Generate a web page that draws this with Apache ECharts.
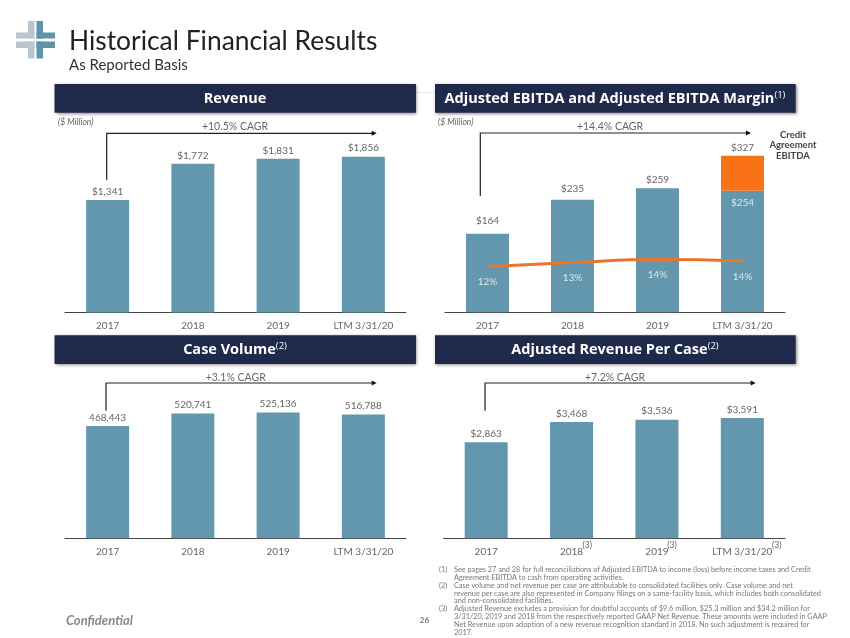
<!DOCTYPE html>
<html><head><meta charset="utf-8">
<style>html,body{margin:0;padding:0;background:#fff}#c{width:850px;height:638px}</style>
<script src="https://cdn.jsdelivr.net/npm/echarts@6/dist/echarts.min.js"></script>
</head><body><div id="c"></div>
<script>
var categories = ['2017','2018','2019','LTM 3/31/20'];
var revenue = [1341,1772,1831,1856];
var ebitda = [164,235,259,254];
var creditAddOn = [null,null,null,73];
var ebitdaLabels = ['$164','$235','$259','$254'];
var creditLabel = '$327';
var margin = [12.2,13.3,14.1,13.7];
var caseVolume = [468443,520741,525136,516788];
var revPerCase = [2863,3468,3536,3591];
var footnotes = [
 ['(1)','See pages 27 and 28 for full reconciliations of Adjusted EBITDA to income (loss) before income taxes and Credit'],
 ['','Agreement EBITDA to cash from operating activities.'],
 ['(2)','Case volume and net revenue per case are attributable to consolidated facilities only. Case volume and net'],
 ['','revenue per case are also represented in Company filings on a same-facility basis, which includes both consolidated'],
 ['','and non-consolidated facilities.'],
 ['(3)','Adjusted Revenue excludes a provision for doubtful accounts of $9.6 million, $25.3 million and $34.2 million for'],
 ['','3/31/20, 2019 and 2018 from the respectively reported GAAP Net Revenue. These amounts were included in GAAP'],
 ['','Net Revenue upon adoption of a new revenue recognition standard in 2018. No such adjustment is required for'],
 ['','2017.']
];

var FONT = 'Lato, "Open Sans", sans-serif';
var HEAD = '"Open Sans", sans-serif';
var NAVY = '#1f2a4a', BAR = '#6297ae', ORANGE = '#f97316', TXT = '#666', LIGHT = '#dce8ee';
var LABEL = 10;

var grids = [
 {left:65,  width:341,   top:120, height:192.5},
 {left:445, width:340,   top:120, height:192.3},
 {left:65,  width:341,   top:372, height:166.3},
 {left:443.5,width:341.5,top:372, height:166.3}
];
var yMax = [2294, 401.5, 694073, 4960];

function fmtUsd(v){return '$'+v.toLocaleString('en-US');}
function fmtNum(v){return v.toLocaleString('en-US');}

function xAxis(i,data){
 return {type:'category',gridIndex:i,data:data,
  axisLine:{lineStyle:{color:'#444',width:1}},axisTick:{show:false},
  axisLabel:{interval:0,margin:8,fontFamily:FONT,fontSize:LABEL,color:TXT}};
}
function yAxis(i,max){return {type:'value',gridIndex:i,min:0,max:max,show:false,splitLine:{show:false}};}
function bars(i,data,fmt){
 return {type:'bar',xAxisIndex:i,yAxisIndex:i,data:data,barWidth:43,itemStyle:{color:BAR},
  label:{show:true,position:'top',distance:3.5,fontFamily:FONT,fontSize:LABEL,color:TXT,formatter:function(p){return fmt(p.value);}}};
}

var ebitdaDist = [7.5,5.5,3.5];
var ebitdaData = ebitda.map(function(v,k){
 if(k===3) return {value:v,label:{show:true,position:'insideTop',distance:7,color:LIGHT,formatter:ebitdaLabels[k]}};
 return {value:v,label:{show:true,position:'top',distance:ebitdaDist[k],formatter:ebitdaLabels[k],color:TXT}};
});

var series = [
 bars(0,revenue,fmtUsd),
 {type:'bar',stack:'e',xAxisIndex:1,yAxisIndex:1,data:ebitdaData,barWidth:43,itemStyle:{color:BAR},
  label:{fontFamily:FONT,fontSize:LABEL}},
 {type:'bar',stack:'e',xAxisIndex:1,yAxisIndex:1,data:creditAddOn,barWidth:43,itemStyle:{color:ORANGE},
  label:{show:true,position:'top',distance:2.5,fontFamily:FONT,fontSize:LABEL,color:TXT,formatter:creditLabel}},
 {type:'line',xAxisIndex:1,yAxisIndex:4,data:margin,smooth:true,symbol:'circle',symbolSize:1,showSymbol:true,
  itemStyle:{color:'#e8762c'},lineStyle:{color:'#e8762c',width:3},z:5,
  label:{show:true,position:'bottom',distance:10,fontFamily:FONT,fontSize:LABEL,color:LIGHT,
   formatter:function(p){return Math.round(p.value)+'%';}}},
 bars(2,caseVolume,fmtNum),
 bars(3,revPerCase,fmtUsd)
];

function rect(x,y,w,h,c,extra){
 var o={type:'rect',shape:{x:x,y:y,width:w,height:h},style:{fill:c},silent:true};
 if(extra) for(var k in extra) o.style[k]=extra[k];
 return o;
}
function headRect(x,y,w,h){
 return rect(x,y,w,h,NAVY,{shadowBlur:3,shadowOffsetX:1,shadowOffsetY:1,shadowColor:'rgba(0,0,0,0.45)'});
}
function text(x,y,t,size,color,opt){
 var s={x:x,y:y,text:t,fontFamily:FONT,fontSize:size,fill:color,align:'left',verticalAlign:'middle'};
 if(opt) for(var k in opt) s[k]=opt[k];
 return {type:'text',style:s,silent:true,z:10};
}
function headText(cx,cy,t){
 return text(cx,cy,t,14.5,'#fff',{fontFamily:HEAD,fontWeight:'bold',align:'center',
  rich:{sup:{fontFamily:HEAD,fontSize:9.5,fontWeight:'normal',fill:'#fff',verticalAlign:'top',padding:[0,0,7,0]},
        b:{fontFamily:HEAD,fontSize:14.5,fontWeight:'bold',fill:'#fff'}}});
}
function arrow(x,y0,y1,xEnd){
 return [
  {type:'polyline',shape:{points:[[x,y0],[x,y1],[xEnd-4,y1]]},style:{stroke:'#222',lineWidth:1.2,fill:null},silent:true},
  {type:'polygon',shape:{points:[[xEnd-5,y1-2.5],[xEnd,y1],[xEnd-5,y1+2.5]]},style:{fill:'#111'},silent:true}
 ];
}
function cagr(cx,cy,t){return text(cx,cy,t,10.5,TXT,{align:'center'});}

var g = [];
// logo
var LG='#b7c6d0', LB='#5f93ab';
g.push(rect(28,21,6.5,17.5,LG),rect(16,32.5,18.5,6,LG),rect(28,41.5,6.5,17,LG),rect(16,41.5,18.5,6.5,LG));
g.push(rect(36.5,21,6.5,17.5,LB),rect(36.5,32.5,18.5,6,LB),rect(36.5,41.5,6.5,17,LB),rect(36.5,41.5,18.5,6.5,LB));
g.push(text(69,41.5,'Historical Financial Results',26.4,'#222'));
g.push(text(69,65,'As Reported Basis',15,'#333'));
g.push(rect(416,92,19,1,'#e6e9eb'));
g.push(headRect(54.5,84,361.5,28.7),headRect(435,84,360.7,28.7),headRect(54.5,335.3,361.5,28.7),headRect(435,335.3,360.7,28.7));
g.push(headText(235,98.5,'{b|Revenue}'));
g.push(headText(615,98.5,'{b|Adjusted EBITDA and Adjusted EBITDA Margin}{sup|(1)}'));
g.push(headText(235,350,'{b|Case Volume}{sup|(2)}'));
g.push(headText(615,350,'{b|Adjusted Revenue Per Case}{sup|(2)}'));
g.push(text(58,122,'($ Million)',8.6,TXT,{fontStyle:'italic'}));
g.push(text(438,122,'($ Million)',8.6,TXT,{fontStyle:'italic'}));
g=g.concat(arrow(106.7,180,133.3,376.7),arrow(480.3,196,133,751),arrow(106,410.7,383,376.7),arrow(485,410.7,383,755.7));
g.push(cagr(235,127,'+10.5% CAGR'),cagr(610,127,'+14.4% CAGR'),cagr(235.7,377.3,'+3.1% CAGR'),cagr(615,377.3,'+7.2% CAGR'));
['Credit','Agreement','EBITDA'].forEach(function(t,i){
 g.push(text(793,135+i*10.3,t,9.5,'#444',{align:'center',fontWeight:'bold'}));
});
[587.3,672,776.7].forEach(function(x){ g.push(text(x,545,'(3)',8.5,TXT,{align:'center'})); });
footnotes.forEach(function(f,i){
 var y=569.3+i*7.95;
 if(f[0]) g.push(text(439,y,f[0],7.3,'#777'));
 g.push(text(454,y,f[1],7.3,'#777'));
});
g.push(text(66,620.7,'Confidential',13,'#888',{fontStyle:'italic',fontWeight:'bold'}));
g.push(text(424.5,620.5,'26',8,'#777',{align:'center',fontWeight:'bold'}));

var chart = echarts.init(document.getElementById('c'),null,{renderer:'canvas'});
chart.setOption({
 animation:false,backgroundColor:'#fff',
 grid:grids,
 xAxis:[xAxis(0,categories),xAxis(1,categories),xAxis(2,categories),xAxis(3,categories)],
 yAxis:[yAxis(0,yMax[0]),yAxis(1,yMax[1]),yAxis(2,yMax[2]),yAxis(3,yMax[3]),yAxis(1,51.4)],
 series:series,
 graphic:g
});
</script></body></html>
